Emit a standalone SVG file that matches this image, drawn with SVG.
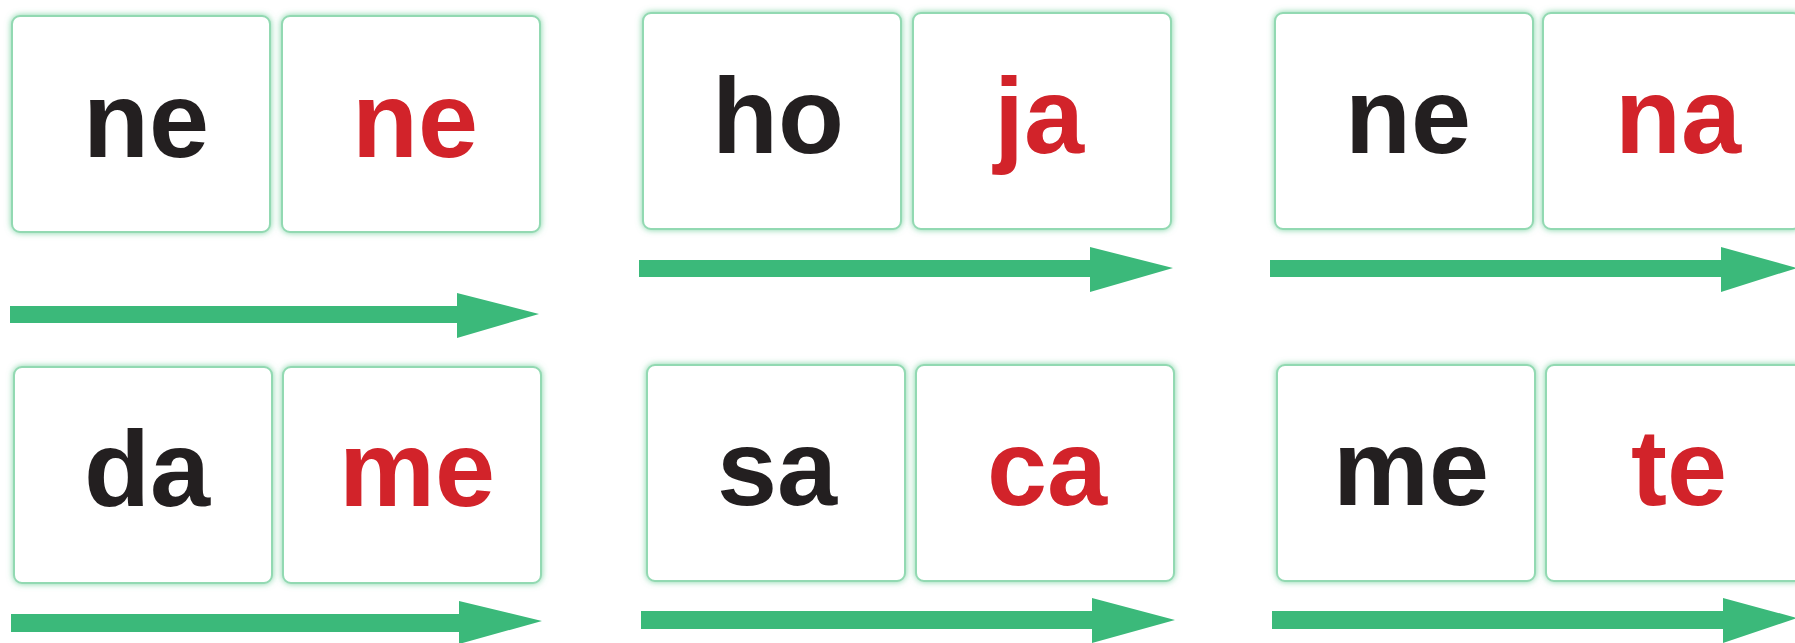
<svg xmlns="http://www.w3.org/2000/svg" width="1795" height="643" viewBox="0 0 1795 643">
<defs>
<filter id="glow" x="-5%" y="-5%" width="110%" height="110%">
<feGaussianBlur in="SourceAlpha" stdDeviation="3" result="b"/>
<feFlood flood-color="#5cc98e" flood-opacity="0.8"/>
<feComposite in2="b" operator="in" result="g"/>
<feMerge><feMergeNode in="g"/><feMergeNode in="SourceGraphic"/></feMerge>
</filter>
</defs>
<style>
.card{fill:#ffffff;stroke:#92d9b2;stroke-width:2;filter:url(#glow)}
.t{font-family:"Liberation Sans",Arial,sans-serif;font-weight:700;font-size:108px;text-anchor:middle}
.k{fill:#231f20}
.r{fill:#d2232a}
.arrow{fill:#3bb97a}
</style>
<rect width="1795" height="643" fill="#ffffff"/>
<g id="card-a1"><rect class="card" x="12" y="16" width="258" height="216" rx="8"/><text class="t k" x="146" y="157">ne</text></g>
<g id="card-a2"><rect class="card" x="282" y="16" width="258" height="216" rx="8"/><text class="t r" x="415" y="157">ne</text></g>
<g id="card-b1"><rect class="card" x="643" y="13" width="258" height="216" rx="8"/><text class="t k" x="778" y="153">ho</text></g>
<g id="card-b2"><rect class="card" x="913" y="13" width="258" height="216" rx="8"/><text class="t r" x="1039" y="153">ja</text></g>
<g id="card-c1"><rect class="card" x="1275" y="13" width="258" height="216" rx="8"/><text class="t k" x="1408" y="153">ne</text></g>
<g id="card-c2"><rect class="card" x="1543" y="13" width="258" height="216" rx="8"/><text class="t r" x="1678" y="153">na</text></g>
<g id="card-d1"><rect class="card" x="14" y="367" width="258" height="216" rx="8"/><text class="t k" x="147" y="506">da</text></g>
<g id="card-d2"><rect class="card" x="283" y="367" width="258" height="216" rx="8"/><text class="t r" x="417" y="506">me</text></g>
<g id="card-e1"><rect class="card" x="647" y="365" width="258" height="216" rx="8"/><text class="t k" x="777" y="505">sa</text></g>
<g id="card-e2"><rect class="card" x="916" y="365" width="258" height="216" rx="8"/><text class="t r" x="1047" y="505">ca</text></g>
<g id="card-f1"><rect class="card" x="1277" y="365" width="258" height="216" rx="8"/><text class="t k" x="1411" y="505">me</text></g>
<g id="card-f2"><rect class="card" x="1546" y="365" width="258" height="216" rx="8"/><text class="t r" x="1679" y="505">te</text></g>
<g id="connectors">
<polygon class="arrow" points="10,306 457,306 457,293 539,314 457,338 457,323 10,323"/>
<polygon class="arrow" points="639,260 1090,260 1090,247 1173,268 1090,292 1090,277 639,277"/>
<polygon class="arrow" points="1270,260 1721,260 1721,247 1797,268 1721,292 1721,277 1270,277"/>
<polygon class="arrow" points="11,614 459,614 459,601 542,621 459,644 459,632 11,632"/>
<polygon class="arrow" points="641,611 1092,611 1092,598 1175,620 1092,643 1092,629 641,629"/>
<polygon class="arrow" points="1272,611 1723,611 1723,598 1797,618 1723,643 1723,629 1272,629"/>
</g>
</svg>
